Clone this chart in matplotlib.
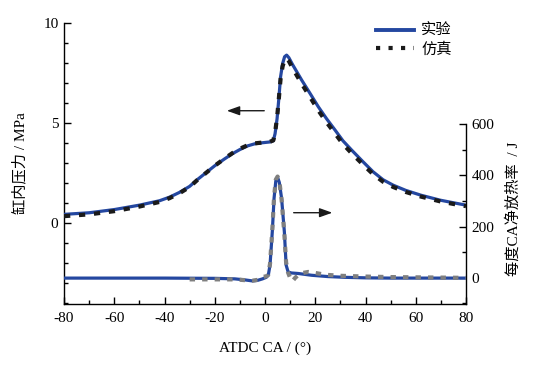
import matplotlib
matplotlib.use("Agg")
import matplotlib.pyplot as plt
from matplotlib.lines import Line2D
from matplotlib.ticker import MultipleLocator

plt.rcParams['font.family'] = ['Liberation Serif', 'Noto Sans CJK SC']
plt.rcParams['axes.unicode_minus'] = False
plt.rcParams['font.size'] = 11

# ------- données -------
# pression cylindre (MPa), expérience
ca_p_exp = [-80, -70, -60, -50, -42, -38, -34, -30, -27, -24, -20, -16, -13, -10, -7, -4, -1,
            2, 3.3, 4.0, 4.8, 5.5, 6.2, 7.0, 7.8, 8.6, 9.5, 11, 14.6, 18, 21.2, 24.5, 27.9, 31,
            34.5, 39, 43, 47, 51, 56, 62, 69.7, 75, 80]
p_exp = [0.42, 0.50, 0.66, 0.88, 1.10, 1.28, 1.52, 1.82, 2.15, 2.45, 2.85, 3.20, 3.45, 3.66,
         3.84, 3.95, 4.00, 4.04, 4.10, 4.45, 5.20, 6.20, 7.30, 7.95, 8.30, 8.38, 8.25, 7.90,
         7.13, 6.45, 5.80, 5.20, 4.63, 4.10, 3.63, 3.05, 2.55, 2.15, 1.88, 1.62, 1.38, 1.13,
         1.00, 0.88]

# pression cylindre (MPa), simulation
ca_p_sim = ca_p_exp
p_sim = [0.33, 0.42, 0.58, 0.81, 1.04, 1.23, 1.48, 1.79, 2.13, 2.44, 2.85, 3.22, 3.48, 3.70,
         3.87, 3.97, 4.01, 4.05, 4.12, 4.50, 5.25, 6.20, 7.20, 7.82, 8.15, 8.22, 8.08, 7.72,
         6.95, 6.27, 5.62, 5.02, 4.46, 3.94, 3.47, 2.91, 2.43, 2.05, 1.79, 1.54, 1.31, 1.07,
         0.94, 0.83]

# taux de dégagement de chaleur (J/°CA), expérience
ca_q_exp = [-80, -60, -40, -20, -12, -8, -5, -3, -1, 0.5, 1.3, 2.0, 2.9, 3.6, 4.3, 5.0, 5.7,
            6.6, 7.7, 8.4, 9.2, 10.5, 13.2, 18.6, 25, 32, 40, 50, 60, 70, 80]
q_exp = [-1, -1, -1, -2, -4, -8, -12, -10, -4, 2, 10, 50, 180, 310, 378, 392, 372, 310, 180,
         50, 23, 19, 17, 10, 5, 2, 0, -1, -1, -1, -1]

# taux de dégagement de chaleur (J/°CA), simulation
ca_q_sim = [-30, -20, -12, -8, -5, -3, -1.3, -0.7, 0.5, 1.3, 2.0, 2.9, 3.6, 4.3, 5.0, 5.7,
            6.6, 7.7, 8.4, 9.2, 10.2, 10.9, 12, 13.9, 17.2, 20, 24, 30, 40, 50, 60, 70, 80]
q_sim = [-6, -6, -6, -9, -11, -8, 0, 4, 6, 12, 55, 185, 315, 383, 395, 378, 305, 170, 60, 20,
         -5, -13, 0, 17, 23, 19, 12, 8, 5, 3, 2, 1, 0]

blue = '#2447a0'
noir = '#1a1a1a'
gris = '#7f7f7f'

fig = plt.figure(figsize=(5.37, 3.66), dpi=100)
ax = fig.add_axes([0.1192, 0.1694, 0.7486, 0.7686])
ax2 = ax.twinx()

# courbes de pression (axe gauche)
ax.plot(ca_p_exp, p_exp, color=blue, lw=2.3, zorder=3)
ax.plot(ca_p_sim, p_sim, color=noir, lw=3, linestyle=(0, (1.5, 2.1)), zorder=4)

# courbes de chaleur (axe droit)
ax2.plot(ca_q_exp, q_exp, color=blue, lw=2.3, zorder=3)
ax2.plot(ca_q_sim, q_sim, color=gris, lw=3, linestyle=(0, (1.3, 1.7)), zorder=4)

ax.set_xlim(-80, 80)
ax.set_ylim(-4.06, 10)
ax2.set_ylim(-102, 995)

ax.xaxis.set_major_locator(MultipleLocator(20))
ax.xaxis.set_minor_locator(MultipleLocator(10))
ax.set_yticks([0, 5, 10])
ax.yaxis.set_minor_locator(MultipleLocator(1))
ax2.set_yticks([0, 200, 400, 600])
ax2.set_yticks([-100, 100, 300, 500], minor=True)

for a in (ax, ax2):
    a.tick_params(which='major', direction='in', length=5, width=1, labelsize=11, pad=4)
    a.tick_params(which='minor', direction='in', length=3, width=1)
    a.spines['top'].set_visible(False)
    for s in a.spines.values():
        s.set_linewidth(1)
ax.tick_params(axis='x', pad=6)
ax.spines['right'].set_visible(False)
ax2.spines['left'].set_visible(False)
ax2.spines['bottom'].set_visible(False)
ax2.spines['right'].set_bounds(-102, 600)

ax.set_xlabel('ATDC CA / (°)', fontsize=11)
ax.xaxis.set_label_coords(0.5, -0.135)
ax.set_ylabel('缸内压力 / MPa', fontsize=11)
ax.yaxis.set_label_coords(-0.09, 0.5)
ax2.set_ylabel('每度CA净放热率  / J', fontsize=11)
ax2.yaxis.set_label_coords(1.10, 0.34)

# flèches indiquant l'axe
ax.annotate('', xy=(-16.3, 5.6), xytext=(0.8, 5.6),
            arrowprops=dict(arrowstyle='-|>,head_length=0.7,head_width=0.25', color=noir, lw=1))
ax2.annotate('', xy=(27.9, 254), xytext=(10.3, 254),
             arrowprops=dict(arrowstyle='-|>,head_length=0.7,head_width=0.25', color=noir, lw=1))

handles = [Line2D([], [], color=blue, lw=2.8),
           Line2D([], [], color=noir, lw=3, linestyle=(0, (1, 2)))]
ax.legend(handles, ['实验', '仿真'], loc='upper left', bbox_to_anchor=(0.776, 0.994),
          frameon=False, borderpad=0, borderaxespad=0, handlelength=2.5,
          handletextpad=0.45, labelspacing=0.25, fontsize=11)

fig.savefig('out.png', dpi=100)
